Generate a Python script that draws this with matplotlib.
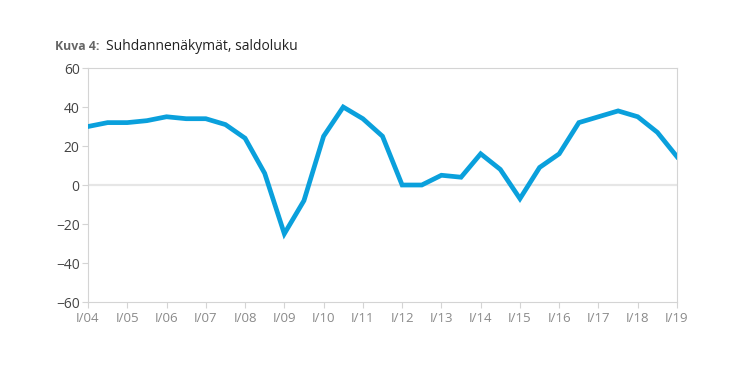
import matplotlib
matplotlib.use("Agg")
import matplotlib.pyplot as plt
import numpy as np

plt.rcParams['font.family'] = ['Open Sans', 'DejaVu Sans']

years = list(range(2004, 2020))
tick_labels = [f"I/{y % 100:02d}" for y in years]
values = [30, 32, 32, 33, 35, 34, 34, 31, 24, 6, -25, -8, 25, 40, 34, 25,
          0, 0, 5, 4, 16, 8, -7, 9, 16, 32, 35, 38, 35, 27, 14.5]
x = np.arange(len(values)) * 0.5

fig = plt.figure(figsize=(7.5, 3.81), dpi=100)
ax = fig.add_axes([0.1173, 0.2073, 0.7854, 0.6142])
ax.plot(x, values, color='#0AA0DC', lw=3.4, solid_joinstyle='miter', zorder=3)
ax.axhline(0, color='#e6e6e6', lw=1.6, zorder=1)

ax.set_xlim(0, 15)
ax.set_ylim(-60, 60)
ax.set_yticks(range(-60, 61, 20))
ax.set_yticklabels([f"{v}".replace('-', '\u2212') for v in range(-60, 61, 20)])
ax.set_xticks(range(0, 16))
ax.set_xticklabels(tick_labels)

for s in ax.spines.values():
    s.set_color('#d4d4d4')
    s.set_linewidth(0.8)
ax.tick_params(axis='y', length=4, width=0.8, color='#d4d4d4', labelcolor='#444444', labelsize=10, pad=2)
ax.tick_params(axis='x', length=4, width=0.8, color='#d4d4d4', labelcolor='#8a8a8a', labelsize=9.5, pad=3)

fig.text(0.073, 0.868, "Kuva 4:", fontsize=8.8, fontweight='bold', color='#666666', va='baseline')
fig.text(0.1415, 0.868, "Suhdannenäkymät, saldoluku", fontsize=10, color='#222222', va='baseline')

fig.savefig("out.png", dpi=100)
